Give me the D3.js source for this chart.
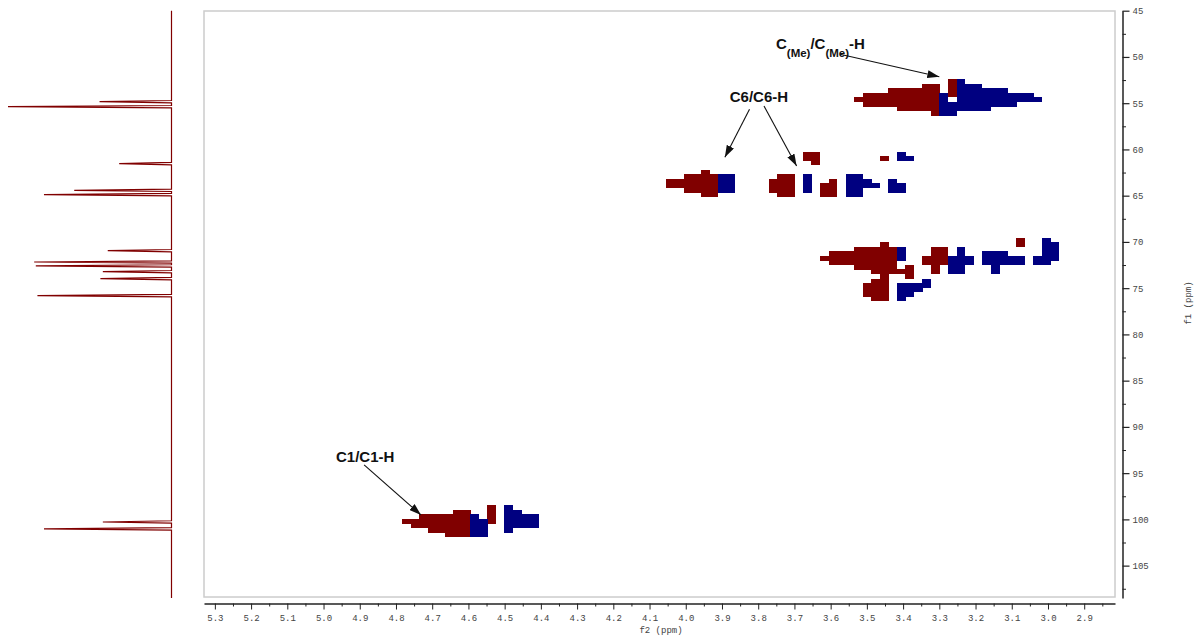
<!DOCTYPE html>
<html>
<head>
<meta charset="utf-8">
<script src="https://cdn.jsdelivr.net/npm/d3@7"></script>
<style>
  body { margin: 0; background: #fff; }
  svg { display: block; }
  .tick text { font-family: "Liberation Mono", "DejaVu Sans Mono", monospace; font-size: 9px; fill: #444; }
</style>
</head>
<body>
<svg id="chart" width="1204" height="637"></svg>
<script>
// HSQC spectrum: f2 = 1H (ppm), f1 = 13C (ppm)

// Axis tick labels
const f2Ticks = [5.3, 5.2, 5.1, 5.0, 4.9, 4.8, 4.7, 4.6, 4.5, 4.4, 4.3, 4.2, 4.1, 4.0,
                 3.9, 3.8, 3.7, 3.6, 3.5, 3.4, 3.3, 3.2, 3.1, 3.0, 2.9];
const f1Ticks = [45, 50, 55, 60, 65, 70, 75, 80, 85, 90, 95, 100, 105];

// Digital resolution of the processed 2D matrix (first point and increment, ppm)
const f2Start = 4.7833, f2Step = 0.02355;
const f1Start = 52.384, f1Step = 0.4903;

// Contour cells above threshold, as column runs: [f2 point, first f1 point, last f1 point]
const positiveRuns = [
  // C1 / H1
  [0, 97, 97], [1, 97, 98], [2, 96, 98], [3, 96, 99], [4, 96, 99], [5, 96, 100],
  [6, 95, 100], [7, 95, 100], [10, 94, 97],
  // C6 / H6
  [31, 22, 23], [32, 22, 23], [33, 21, 24], [34, 21, 24], [35, 20, 25], [36, 21, 25],
  [43, 22, 24], [44, 21, 25], [45, 21, 25], [47, 16, 17], [48, 16, 18],
  [49, 23, 25], [50, 22, 25], [56, 17, 17],
  // C2-C5 ring region
  [49, 39, 39], [50, 38, 40], [51, 38, 40], [52, 38, 40], [53, 37, 41], [54, 37, 41],
  [55, 37, 42], [56, 36, 48], [57, 37, 42], [58, 42, 42], [59, 41, 43],
  [61, 39, 40], [62, 37, 42], [63, 37, 40], [72, 35, 36], [54, 45, 47], [55, 44, 48],
  // OMe
  [53, 4, 4], [54, 3, 5], [55, 3, 5], [56, 3, 5], [57, 2, 5], [58, 2, 6], [59, 2, 6],
  [60, 2, 6], [61, 1, 6], [62, 1, 7], [64, 0, 3]
];
const negativeRuns = [
  // C1 / H1
  [8, 96, 100], [9, 97, 100], [12, 94, 99], [13, 95, 98], [14, 96, 98], [15, 96, 98],
  // C6 / H6
  [37, 21, 24], [38, 21, 24], [47, 21, 24], [52, 21, 25], [53, 21, 25], [54, 22, 23],
  [55, 23, 23], [57, 22, 24], [58, 23, 24], [58, 16, 17], [59, 17, 17],
  // C2-C5 ring region
  [58, 37, 39], [58, 45, 48], [59, 45, 47], [60, 45, 46], [61, 44, 45], [64, 39, 42],
  [65, 37, 42], [66, 39, 40], [68, 38, 40], [69, 38, 42], [70, 38, 40], [71, 39, 40],
  [72, 39, 40], [74, 39, 40], [75, 35, 40], [76, 36, 39],
  // OMe
  [63, 3, 7], [64, 5, 7], [65, 0, 6], [66, 1, 6], [67, 1, 6], [68, 2, 6], [69, 2, 5],
  [70, 2, 5], [71, 3, 5], [72, 3, 4], [73, 3, 4], [74, 4, 4]
];

// 13C projection: peak position (ppm) and relative height
const projPeaks = [
  [54.84, 0.44], [55.38, 1.00], [61.54, 0.32], [64.42, 0.595], [64.89, 0.78],
  [70.95, 0.39], [72.17, 0.84], [72.60, 0.83], [73.22, 0.42], [73.97, 0.435],
  [75.81, 0.82], [100.28, 0.42], [101.03, 0.78]
];

// Assignment labels: text anchor and arrow(s) in ppm (f2, f1)
const labels = [
  { parts: [["C", 0], ["(Me)", 1], ["/C", 0], ["(Me)", 1], ["-H", 0]], f2: 3.751, f1: 49.09, anchor: "start",
    arrows: [[3.574, 49.71, 3.300, 52.14]] },
  { parts: [["C6/C6-H", 0]], f2: 3.798, f1: 54.84, anchor: "middle",
    arrows: [[3.824, 55.66, 3.892, 60.85], [3.784, 55.30, 3.694, 61.79]] },
  { parts: [["C1/C1-H", 0]], f2: 4.885, f1: 93.79, anchor: "middle",
    arrows: [[4.888, 94.11, 4.731, 99.52]] }
];

const svg = d3.select("#chart");

const x = d3.scaleLinear().domain([5.33, 2.815]).range([204, 1115]);
const y = d3.scaleLinear().domain([45, 108.5]).range([10.7, 598]);
const px = d3.scaleLinear().domain([0, 1]).range([171.5, 8]);

// Plot frame
svg.append("rect")
  .attr("x", 204).attr("y", 11)
  .attr("width", 1115 - 204).attr("height", 597 - 11)
  .attr("fill", "none").attr("stroke", "#cccccc").attr("stroke-width", 1.5);

// Contour cells
function drawRuns(runs, color) {
  svg.append("g").attr("shape-rendering", "crispEdges")
    .selectAll("rect").data(runs).join("rect")
    .attr("x", d => x(f2Start - d[0] * f2Step))
    .attr("width", d => x(f2Start - (d[0] + 1) * f2Step) - x(f2Start - d[0] * f2Step) + 0.4)
    .attr("y", d => y(f1Start + d[1] * f1Step))
    .attr("height", d => y(f1Start + (d[2] + 1) * f1Step) - y(f1Start + d[1] * f1Step) + 0.3)
    .attr("fill", color);
}
drawRuns(positiveRuns, "#800000");
drawRuns(negativeRuns, "#000080");

// 13C projection trace along the left edge
const halfWidth = 0.13;
const projPts = [[45, 0]];
projPeaks.slice().sort((a, b) => a[0] - b[0]).forEach(([c, h]) => {
  projPts.push([c - halfWidth, 0], [c, h], [c + halfWidth, 0]);
});
projPts.push([108.5, 0]);
svg.append("path")
  .datum(projPts)
  .attr("d", d3.line().x(d => px(d[1])).y(d => y(d[0])))
  .attr("fill", "none").attr("stroke", "#800000").attr("stroke-width", 1.2)
  .attr("stroke-linejoin", "miter");

// f2 axis (bottom)
const xMinor = d3.range(5.25, 2.82, -0.1).map(v => +v.toFixed(2));
svg.append("g").attr("transform", "translate(0,603.5)")
  .call(d3.axisBottom(x).tickValues(xMinor).tickSize(3).tickFormat(""))
  .call(g => g.select(".domain").remove())
  .call(g => g.selectAll("line").attr("stroke", "#222"));
svg.append("g").attr("transform", "translate(0,603.5)")
  .call(d3.axisBottom(x).tickValues(f2Ticks).tickSize(6).tickSizeOuter(0).tickPadding(5)
        .tickFormat(d3.format(".1f")))
  .call(g => g.select(".domain").attr("stroke", "#222").attr("stroke-width", 1.5))
  .call(g => g.selectAll("line").attr("stroke", "#222"));

// f1 axis (right)
const yMinor = d3.range(47.5, 108.5, 5);
svg.append("g").attr("transform", "translate(1122.5,0)")
  .call(d3.axisRight(y).tickValues(yMinor).tickSize(3.5).tickFormat(""))
  .call(g => g.select(".domain").remove())
  .call(g => g.selectAll("line").attr("stroke", "#222"));
svg.append("g").attr("transform", "translate(1122.5,0)")
  .call(d3.axisRight(y).tickValues(f1Ticks).tickSize(7).tickSizeOuter(0).tickPadding(3)
        .tickFormat(d3.format("d")))
  .call(g => g.select(".domain").attr("stroke", "#222").attr("stroke-width", 1.5))
  .call(g => g.selectAll("line").attr("stroke", "#222").attr("stroke-width", 1.2));

// Axis titles
svg.append("text").attr("x", 661).attr("y", 633)
  .attr("text-anchor", "middle")
  .style("font-family", "'Liberation Mono', monospace").style("font-size", "9px").attr("fill", "#444")
  .text("f2 (ppm)");
svg.append("text")
  .attr("transform", "translate(1191,303) rotate(-90)")
  .attr("text-anchor", "middle")
  .style("font-family", "'Liberation Mono', monospace").style("font-size", "9px").attr("fill", "#444")
  .text("f1 (ppm)");

// Arrowhead marker
svg.append("defs").append("marker")
  .attr("id", "head").attr("viewBox", "0 0 12 8")
  .attr("refX", 12).attr("refY", 4)
  .attr("markerWidth", 12).attr("markerHeight", 8)
  .attr("markerUnits", "userSpaceOnUse").attr("orient", "auto")
  .append("path").attr("d", "M0,0 L12,4 L0,8 Z").attr("fill", "#111");

// Assignment labels with arrows
const subShift = 8;
labels.forEach(l => {
  const t = svg.append("text")
    .attr("x", x(l.f2)).attr("y", y(l.f1))
    .attr("text-anchor", l.anchor)
    .style("font-family", "'Liberation Sans', Arial, sans-serif")
    .style("font-weight", "bold").style("font-size", "15px").attr("fill", "#111");
  let prevSub = 0;
  l.parts.forEach(([s, sub]) => {
    t.append("tspan")
      .attr("dy", (sub - prevSub) * subShift)
      .style("font-size", sub ? "11.5px" : "15px")
      .text(s);
    prevSub = sub;
  });
  l.arrows.forEach(a => {
    svg.append("line")
      .attr("x1", x(a[0])).attr("y1", y(a[1]))
      .attr("x2", x(a[2])).attr("y2", y(a[3]))
      .attr("stroke", "#111").attr("stroke-width", 1.1)
      .attr("marker-end", "url(#head)");
  });
});
</script>
</body>
</html>
